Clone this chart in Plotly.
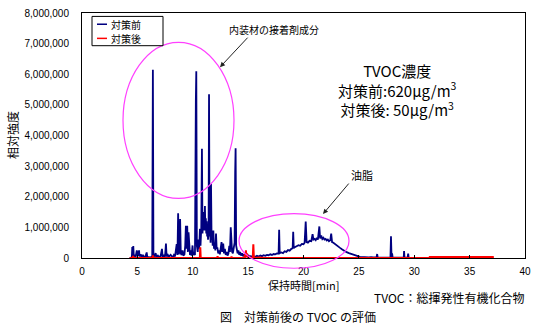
import plotly.graph_objects as go

# ---------------- data ----------------
# Retention time [min] and relative intensity (in millions) - before countermeasure
before_time = [
    4.30, 4.50, 4.54, 4.58, 4.63, 4.68, 4.75, 4.85, 4.95, 5.00, 5.05, 5.10, 5.15, 5.20, 5.30, 5.40,
    5.50, 5.60, 5.70, 5.84, 5.90, 6.00, 6.20, 6.34, 6.38, 6.40, 6.45, 6.55, 6.65, 6.72, 6.85, 6.95,
    7.10, 7.22, 7.28, 7.40, 7.50, 7.58, 7.64, 7.75, 7.85, 8.00, 8.10, 8.20, 8.30, 8.40, 8.55, 8.62,
    8.68, 8.74, 8.80, 8.86, 8.92, 9.00, 9.08, 9.15, 9.25, 9.32, 9.38, 9.44, 9.50, 9.56, 9.62, 9.68,
    9.75, 9.84, 9.90, 9.98, 10.04, 10.12, 10.20, 10.28, 10.32, 10.37, 10.45, 10.52, 10.58, 10.65,
    10.70, 10.77, 10.83, 10.88, 10.93, 10.98, 11.02, 11.06, 11.10, 11.14, 11.18, 11.22, 11.26, 11.30,
    11.34, 11.38, 11.43, 11.47, 11.52, 11.56, 11.61, 11.65, 11.70, 11.75, 11.80, 11.86, 11.92, 11.98,
    12.04, 12.10, 12.16, 12.22, 12.30, 12.38, 12.45, 12.52, 12.60, 12.66, 12.75, 12.82, 12.90, 12.98,
    13.06, 13.14, 13.22, 13.30, 13.36, 13.43, 13.48, 13.55, 13.62, 13.70, 13.78, 13.83, 13.87, 13.92,
    13.98, 14.05, 14.12, 14.20, 14.28, 14.36, 14.45, 14.55, 14.65, 14.75, 14.85, 14.95, 15.05, 15.15,
    15.25, 15.35, 15.50, 15.65, 15.80, 15.95, 16.10, 16.25, 16.40, 16.55, 16.70, 16.85, 17.00, 17.15,
    17.30, 17.45, 17.60, 17.75, 17.80, 17.85, 18.00, 18.15, 18.30, 18.45, 18.60, 18.75, 18.90, 19.02,
    19.07, 19.12, 19.25, 19.40, 19.55, 19.70, 19.85, 20.00, 20.10, 20.20, 20.28, 20.40, 20.55, 20.70,
    20.82, 20.90, 21.00, 21.10, 21.20, 21.30, 21.43, 21.50, 21.60, 21.70, 21.80, 21.90, 22.00, 22.10,
    22.20, 22.30, 22.42, 22.50, 22.58, 22.70, 22.85, 23.00, 23.15, 23.30, 23.50, 23.70, 23.90, 24.10,
    24.30, 24.50, 24.70, 24.90, 25.10, 25.30, 25.50, 25.70, 25.90, 26.10, 26.30, 26.60, 26.65, 26.70,
    27.00, 27.50, 27.85, 27.90, 27.95, 28.00, 28.05, 28.50, 29.05, 29.08, 29.12, 29.40, 29.45, 29.50,
    30.00,
]
before_mcounts = [
    0.00, 0.02, 0.36, 0.05, 0.39, 0.04, 0.08, 0.05, 0.25, 0.08, 0.22, 0.06, 0.25, 0.05, 0.12, 0.04,
    0.10, 0.03, 0.02, 0.18, 0.02, 0.03, 0.02, 0.05, 4.02, 6.15, 0.10, 0.05, 0.16, 0.04, 0.08, 0.03,
    0.06, 0.30, 0.04, 0.08, 0.05, 0.47, 0.05, 0.10, 0.04, 0.10, 0.06, 0.03, 0.10, 0.05, 0.45, 0.10,
    1.46, 0.12, 0.30, 1.27, 0.15, 0.10, 0.25, 0.08, 0.12, 0.40, 1.05, 0.30, 1.05, 0.20, 0.84, 0.15,
    0.10, 0.25, 0.08, 0.41, 0.10, 0.15, 0.10, 5.16, 6.10, 0.40, 0.20, 0.60, 0.30, 0.95,
    0.40, 1.00, 3.57, 0.80, 1.30, 0.90, 1.50, 1.00, 1.70, 0.90, 1.30, 0.80, 1.20, 0.70,
    1.00, 0.60, 0.90, 5.35, 0.70, 1.00, 0.50, 2.42, 0.60, 0.90, 0.40, 0.90, 0.30, 0.50,
    0.25, 0.80, 0.30, 0.35, 0.15, 0.25, 0.12, 0.35, 0.52, 0.20, 0.47, 0.15, 0.30, 0.10,
    0.20, 0.08, 0.15, 0.40, 0.20, 1.00, 0.30, 0.20, 0.15, 0.30, 0.50, 2.80, 3.58, 0.40,
    0.30, 0.15, 0.25, 0.10, 0.20, 0.08, 0.15, 0.06, 0.12, 0.05, 0.10, 0.04, 0.08, 0.04,
    0.06, 0.03, 0.05, 0.04, 0.07, 0.05, 0.08, 0.06, 0.09, 0.07, 0.10, 0.09, 0.12, 0.10,
    0.13, 0.12, 0.15, 0.14, 0.92, 0.16, 0.18, 0.16, 0.22, 0.20, 0.26, 0.24, 0.30, 0.32,
    0.86, 0.33, 0.36, 0.38, 0.42, 0.40, 0.46, 0.45, 0.50, 1.19, 0.52, 0.50, 0.56, 0.55,
    0.78, 0.60, 0.62, 0.58, 0.66, 0.60, 1.03, 0.64, 0.73, 0.62, 0.66, 0.60, 0.62, 0.57,
    0.60, 0.55, 0.58, 0.80, 0.52, 0.50, 0.45, 0.40, 0.36, 0.33, 0.28, 0.23, 0.19, 0.16,
    0.13, 0.10, 0.08, 0.06, 0.04, 0.03, 0.02, 0.03, 0.02, 0.03, 0.02, 0.03, 0.13, 0.02,
    0.01, 0.01, 0.01, 0.71, 0.02, 0.15, 0.01, 0.01, 0.01, 0.23, 0.01, 0.01, 0.14, 0.01,
    0.00,
]

# After countermeasure
after_time = [
    4.30, 4.58, 4.62, 4.66, 6.36, 6.40, 6.44, 10.64, 10.68, 10.72, 12.20, 12.24, 12.28,
    13.46, 13.50, 13.54, 14.66, 14.70, 14.74, 14.80, 14.84, 14.90, 14.95, 15.10, 15.20,
    15.42, 15.47, 15.52, 16.00, 16.50, 31.38, 31.40, 37.10, 37.12,
]
after_mcounts = [
    0.00, 0.00, 0.07, 0.00, 0.00, 0.08, 0.00, 0.00, 0.35, 0.00, 0.00, 0.06, 0.00,
    0.00, 0.05, 0.00, 0.00, 0.12, 0.02, 0.25, 0.05, 0.15, 0.03, 0.05, 0.00,
    0.00, 0.45, 0.00, 0.02, 0.00, 0.00, 0.035, 0.035, 0.00,
]

series_names = ["対策前", "対策後"]
series_colors = ["#000080", "#FF0000"]

x_ticks = [0, 5, 10, 15, 20, 25, 30, 35, 40]
y_ticks = [0, 1000000, 2000000, 3000000, 4000000, 5000000, 6000000, 7000000, 8000000]

before_intensity = [v * 1e6 for v in before_mcounts]
after_intensity = [v * 1e6 for v in after_mcounts]

# ---------------- figure ----------------
W, H = 542, 326
L, R, T, B = 82, 17, 7, 68
PW, PH = W - L - R, H - T - B


def px(xp):
    return (xp - L) / PW


def py(yp):
    return (H - B - yp) / PH


fig = go.Figure()
fig.add_trace(go.Scatter(x=before_time, y=before_intensity, mode="lines",
                         name=series_names[0], line=dict(color=series_colors[0], width=1.8)))
fig.add_trace(go.Scatter(x=after_time, y=after_intensity, mode="lines",
                         name=series_names[1], line=dict(color=series_colors[1], width=2)))

num_font = dict(family="Liberation Sans, Arial, sans-serif", size=10, color="black")
jp = "Noto Sans CJK JP, sans-serif"

fig.update_layout(
    width=W, height=H, autosize=False,
    margin=dict(l=L, r=R, t=T, b=B, pad=0),
    plot_bgcolor="white", paper_bgcolor="white",
    showlegend=False,
    xaxis=dict(range=[0, 40], tickvals=x_ticks, ticktext=[str(v) for v in x_ticks],
               showgrid=False, zeroline=False, showline=True, linecolor="black", linewidth=1,
               mirror=True, ticks="inside", ticklen=3, tickcolor="black",
               tickfont=num_font, ticklabelstandoff=4),
    yaxis=dict(range=[0, 8000000], tickvals=y_ticks, tickformat=",d",
               showgrid=False, zeroline=False, showline=True, linecolor="black", linewidth=1,
               mirror=True, ticks="", tickfont=num_font, ticklabelstandoff=10),
)


def text_at(x_pix, y_pix, txt, size, xanchor="center", angle=0, align="center"):
    fig.add_annotation(xref="paper", yref="paper", x=px(x_pix), y=py(y_pix),
                       xanchor=xanchor, yanchor="middle", showarrow=False,
                       textangle=angle, align=align, text=txt,
                       font=dict(family=jp, size=size, color="black"))


# ellipses
ell_col = "#FF40FF"
fig.add_shape(type="circle", xref="paper", yref="paper",
              x0=px(123), x1=px(234), y0=py(197), y1=py(37),
              line=dict(color=ell_col, width=1.2))
fig.add_shape(type="circle", xref="paper", yref="paper",
              x0=px(239), x1=px(349), y0=py(268.5), y1=py(212.5),
              line=dict(color=ell_col, width=1.2))

# custom legend
fig.add_shape(type="rect", xref="paper", yref="paper",
              x0=px(92), x1=px(163), y0=py(40.5), y1=py(10.5),
              line=dict(color="black", width=1), fillcolor="white")
for i, (nm, col) in enumerate(zip(series_names, series_colors)):
    yy = 18.5 + i * 14.5
    fig.add_shape(type="line", xref="paper", yref="paper",
                  x0=px(97), x1=px(107), y0=py(yy), y1=py(yy),
                  line=dict(color=col, width=1.5))
    text_at(109, yy, nm, 10, xanchor="left")

# arrows
fig.add_annotation(xref="paper", yref="paper", x=px(220), y=py(62.5), text="",
                   showarrow=True, ax=29, ay=-31, arrowhead=2, arrowsize=1,
                   arrowwidth=1, arrowcolor="#222222")
fig.add_annotation(xref="paper", yref="paper", x=px(323), y=py(213), text="",
                   showarrow=True, ax=27, ay=-32, arrowhead=2, arrowsize=1,
                   arrowwidth=1, arrowcolor="#222222")

# texts
text_at(274, 24, "内装材の接着剤成分", 10)
text_at(361.5, 173, "油脂", 11)
text_at(397, 85.5, "TVOC濃度<br>対策前:620μg/m<sup>3</sup><br>対策後: 50μg/m<sup>3</sup>", 15)
text_at(12, 132, "相対強度", 12, angle=-90)
text_at(303.5, 286, "保持時間[min]", 11)
text_at(527, 298, "TVOC：総揮発性有機化合物", 12, xanchor="right")
text_at(298, 318, "図　対策前後の TVOC の評価", 12)

fig.write_html("out.html")
